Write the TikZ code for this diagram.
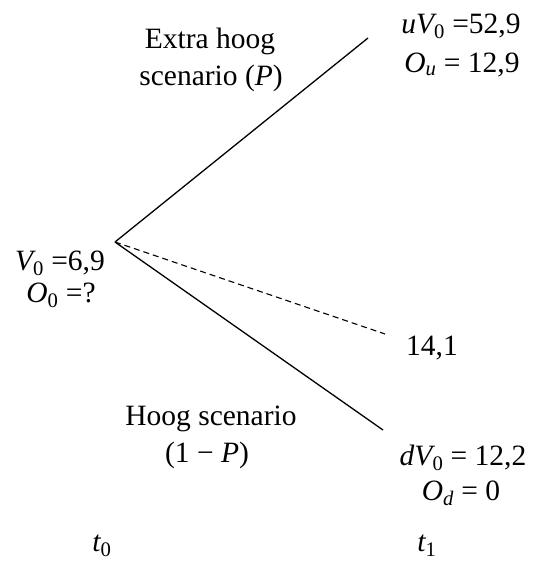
\documentclass[tikz,border=0pt]{standalone}
\usepackage{fontspec}
\usepackage{amsmath}
\setmainfont{Liberation Serif}
\newcommand{\vr}[2]{$\textit{#1}_{\text{#2}}$}
\begin{document}
\begin{tikzpicture}[x=1pt,y=-1pt,
  lbl/.style={inner sep=0pt, anchor=base, font=\fontsize{29.5}{37}\selectfont},
  branch/.style={line width=1.3pt},
  dbranch/.style={line width=1.1pt, dashed, dash pattern=on 6pt off 4pt}]
\useasboundingbox (0,0) rectangle (535,563);
\coordinate (root) at (115,242);
\coordinate (up) at (368,38);
\coordinate (mid) at (385,334);
\coordinate (down) at (383,430);
\draw[branch] (root) -- (up);
\draw[branch] (root) -- (down);
\draw[dbranch] (root) -- (mid);
\node[lbl] (v0) at (60,270) {\vr{V}{0} =6,9};
\node[lbl] (o0) at (61,302) {\vr{O}{0} =?};
\node[lbl] (uv) at (461,33) {\textit{u}\vr{V}{0} =52,9};
\node[lbl] (ou) at (462,72) {\vr{O}{\textit{u}} = 12,9};
\node[lbl] (mv) at (432,355) {14,1};
\node[lbl] (ex1) at (210,48) {Extra hoog};
\node[lbl] (ex2) at (211,85) {scenario (\textit{P})};
\node[lbl] (hg1) at (211,425) {Hoog scenario};
\node[lbl] (hg2) at (207,462) {(1 − \textit{P})};
\node[lbl] (dv) at (463,465) {\textit{d}\vr{V}{0} = 12,2};
\node[lbl] (od) at (461,500) {\vr{O}{\textit{d}} = 0};
\node[lbl] (t0) at (102,551) {\vr{t}{0}};
\node[lbl] (t1) at (427,551) {\vr{t}{1}};
\end{tikzpicture}
\end{document}
